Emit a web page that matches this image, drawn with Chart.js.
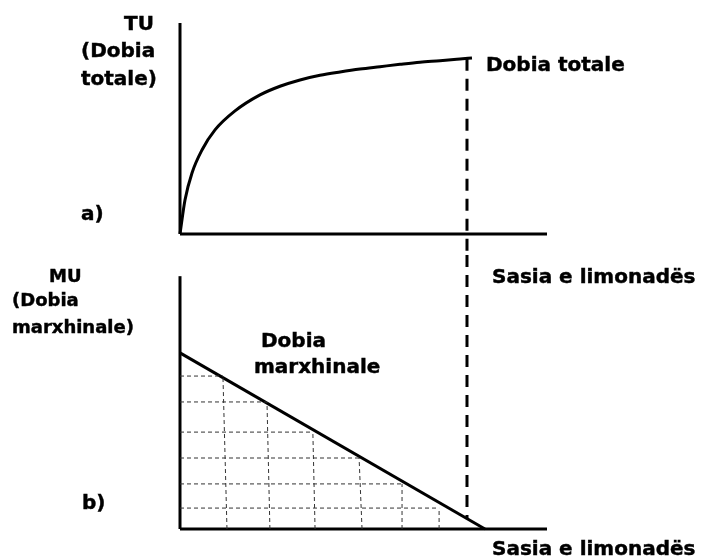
<!DOCTYPE html>
<html>
<head>
<meta charset="utf-8">
<script src="https://cdn.jsdelivr.net/npm/chart.js@4/dist/chart.umd.min.js"></script>
<style>
  html, body { margin: 0; padding: 0; background: #fff; }
  #wrap { position: relative; width: 702px; height: 559px; overflow: hidden; background: #fff; }
  canvas { position: absolute; left: 0; }
  .lbl { position: absolute; font-family: 'DejaVu Sans', Verdana, sans-serif; font-weight: bold; font-size: 20px; line-height: 20px; white-space: nowrap; color: #000; -webkit-text-stroke: 0.45px #000; }
  .sm { font-size: 18px; line-height: 18px; }
</style>
</head>
<body>
<div id="wrap">
  <canvas id="cTop" width="702" height="255" style="top:0"></canvas>
  <canvas id="cBot" width="702" height="304" style="top:255px"></canvas>
</div>
<script>
// ---- Data ----
// Panel a) total utility curve
const tuQty = [0, 0.136, 0.327, 0.599, 0.954, 1.499, 2.180, 2.725, 3.270, 3.815, 4.360, 4.905, 5.450, 5.995, 6.540, 7.084, 7.629, 7.956];
const tuVal = [0, 1.61, 2.89, 3.98, 4.93, 5.83, 6.59, 7.00, 7.30, 7.52, 7.68, 7.82, 7.93, 8.04, 8.14, 8.21, 8.29, 8.34];
// Panel b) marginal utility line
const muQty = [0, 8.31];
const muVal = [7.07, 0];
// staircase grid under the MU line
const stepQtyTop = [1.17, 2.37, 3.62, 4.88, 6.05, 7.06];
const stepQtyBottom = [1.28, 2.45, 3.68, 4.96, 6.05, 7.06];
const stepVal = [6.14, 5.10, 3.89, 2.85, 1.81, 0.84];
// drop line quantity
const dropQty = 7.82;
const dropTopVal = 8.30;   // on TU curve
const dropBottomVal = 0.42; // on MU line
// axis extents
const qtyAxisMax = 10;
const tuAxisMax = 10;
const muAxisMax = 10.15;

// ---- Labels ----
const labels = [
  { t: 'TU', x: 124, y: 13 },
  { t: '(Dobia', x: 81, y: 40 },
  { t: 'totale)', x: 81, y: 68 },
  { t: 'a)', x: 81, y: 203 },
  { t: 'Dobia totale', x: 486, y: 54 },
  { t: 'Sasia e limonadës', x: 492, y: 266 },
  { t: 'MU', x: 49, y: 267, sm: true },
  { t: '(Dobia', x: 12, y: 291, sm: true },
  { t: 'marxhinale)', x: 12, y: 318, sm: true },
  { t: 'Dobia', x: 261, y: 330 },
  { t: 'marxhinale', x: 254, y: 356 },
  { t: 'b)', x: 82, y: 492 },
  { t: 'Sasia e limonadës', x: 492, y: 538 }
];
const wrap = document.getElementById('wrap');
labels.forEach(l => {
  const d = document.createElement('div');
  d.className = 'lbl' + (l.sm ? ' sm' : '');
  d.textContent = l.t;
  d.style.left = l.x + 'px';
  d.style.top = l.y + 'px';
  wrap.appendChild(d);
});

const pts = (xs, ys) => xs.map((x, i) => ({ x: x, y: ys[i] }));
const solid = (data, extra) => Object.assign({
  data: data, showLine: true, borderColor: '#000', backgroundColor: '#000',
  borderWidth: 3, pointRadius: 0, clip: false, fill: false
}, extra || {});

const baseOpts = (pad, ymin, ymax) => ({
  responsive: false, devicePixelRatio: 1, animation: false,
  layout: { padding: pad },
  plugins: { legend: { display: false }, tooltip: { enabled: false } },
  scales: {
    x: { type: 'linear', min: 0, max: qtyAxisMax, display: false },
    y: { type: 'linear', min: ymin, max: ymax, display: false }
  }
});

// ---- Top chart: total utility ----
new Chart(document.getElementById('cTop'), {
  type: 'scatter',
  data: {
    datasets: [
      solid(pts([0, 0], [0, tuAxisMax])),
      solid(pts([0, qtyAxisMax], [0, 0])),
      solid(pts([dropQty, dropQty], [dropTopVal, -1]), { borderDash: [12, 8] }),
      solid(pts(tuQty, tuVal), { cubicInterpolationMode: 'monotone' })
    ]
  },
  options: baseOpts({ left: 180, right: 155, top: 23, bottom: 0 }, -1, 10)
});

// ---- Bottom chart: marginal utility ----
const gridSets = [];
stepVal.forEach((v, i) => {
  gridSets.push(solid(pts([0, stepQtyTop[i]], [v, v]), { borderWidth: 1, borderColor: '#333', borderDash: [4, 3] }));
  gridSets.push(solid(pts([stepQtyBottom[i], stepQtyTop[i]], [0, v]), { borderWidth: 1, borderColor: '#333', borderDash: [4, 3] }));
});
new Chart(document.getElementById('cBot'), {
  type: 'scatter',
  data: {
    datasets: gridSets.concat([
      solid(pts([0, 0], [0, muAxisMax])),
      solid(pts([0, qtyAxisMax], [0, 0])),
      solid(pts([dropQty, dropQty], [11, dropBottomVal]), { borderDash: [12, 8] }),
      solid(pts(muQty, muVal))
    ])
  },
  options: baseOpts({ left: 180, right: 155, top: 0, bottom: 30 }, 0, 11)
});
</script>
</body>
</html>
